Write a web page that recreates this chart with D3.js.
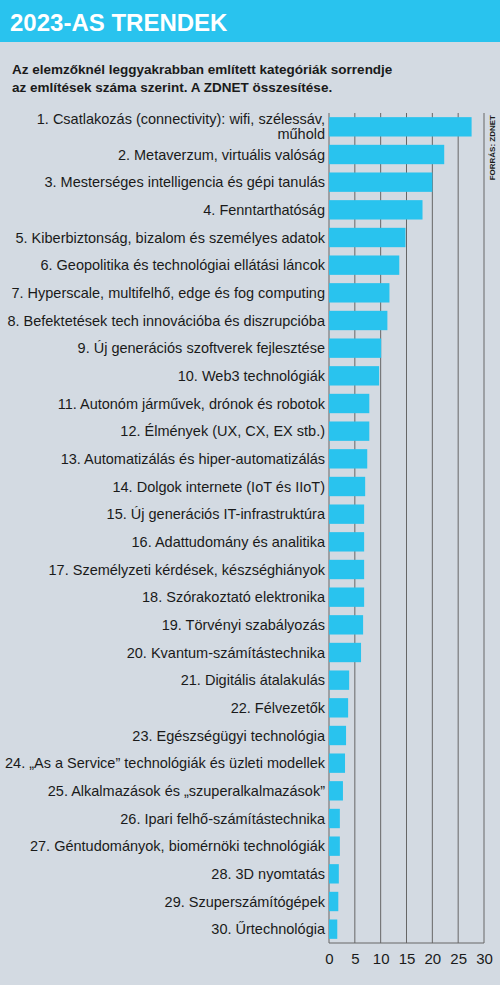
<!DOCTYPE html>
<html><head><meta charset="utf-8">
<script src="https://cdn.jsdelivr.net/npm/d3@7"></script>
<style>body{margin:0;background:#d3dae2}</style>
</head><body>
<script>
const categories = [
  "1. Csatlakozás (connectivity): wifi, szélessáv,|műhold",
  "2. Metaverzum, virtuális valóság",
  "3. Mesterséges intelligencia és gépi tanulás",
  "4. Fenntarthatóság",
  "5. Kiberbiztonság, bizalom és személyes adatok",
  "6. Geopolitika és technológiai ellátási láncok",
  "7. Hyperscale, multifelhő, edge és fog computing",
  "8. Befektetések tech innovációba és diszrupcióba",
  "9. Új generációs szoftverek fejlesztése",
  "10. Web3 technológiák",
  "11. Autonóm járművek, drónok és robotok",
  "12. Élmények (UX, CX, EX stb.)",
  "13. Automatizálás és hiper-automatizálás",
  "14. Dolgok internete (IoT és IIoT)",
  "15. Új generációs IT-infrastruktúra",
  "16. Adattudomány és analitika",
  "17. Személyzeti kérdések, készséghiányok",
  "18. Szórakoztató elektronika",
  "19. Törvényi szabályozás",
  "20. Kvantum-számítástechnika",
  "21. Digitális átalakulás",
  "22. Félvezetők",
  "23. Egészségügyi technológia",
  "24. „As a Service” technológiák és üzleti modellek",
  "25. Alkalmazások és „szuperalkalmazások”",
  "26. Ipari felhő-számítástechnika",
  "27. Géntudományok, biomérnöki technológiák",
  "28. 3D nyomtatás",
  "29. Szuperszámítógépek",
  "30. Űrtechnológia"
];
const values = [27.6, 22.3, 20, 18.1, 14.8, 13.6, 11.7, 11.3, 10.1, 9.7, 7.8, 7.8, 7.4, 7, 6.8, 6.8, 6.8, 6.8, 6.6, 6.2, 3.9, 3.7, 3.3, 3.1, 2.7, 2.1, 2.1, 1.9, 1.8, 1.6];
const ticks = [0, 5, 10, 15, 20, 25, 30];

const W = 500, H = 985;
const cyan = "#29c3ee";
const narrow = "'Liberation Sans Narrow', 'Arial Narrow', 'Liberation Sans', sans-serif";
const svg = d3.select("body").append("svg").attr("width", W).attr("height", H);
svg.append("rect").attr("width", W).attr("height", H).attr("fill", "#d3dae2");
svg.append("rect").attr("width", W).attr("height", 42).attr("fill", cyan);
svg.append("text").attr("x", 10).attr("y", 31).attr("fill", "#fff")
  .attr("font-family", "'Liberation Sans', Arial, sans-serif").attr("font-weight", "bold")
  .attr("font-size", 24).text("2023-AS TRENDEK");
const sub = svg.append("text").attr("font-family", "'Liberation Sans', Arial, sans-serif")
  .attr("font-weight", "bold").attr("font-size", 13.5).attr("fill", "#1a1a1a");
sub.append("tspan").attr("x", 12).attr("y", 74).text("Az elemzőknél leggyakrabban említett kategóriák sorrendje");
sub.append("tspan").attr("x", 12).attr("y", 92).text("az említések száma szerint. A ZDNET összesítése.");

const yTop = 113, yBottom = 943;
const x = d3.scaleLinear().domain([0, 30]).range([329, 484]);
const y = d3.scaleBand().domain(categories).range([yTop, yBottom]).paddingInner(0.3).paddingOuter(0.15);

svg.append("g").selectAll("line").data(ticks).join("line")
  .attr("x1", d => x(d)).attr("x2", d => x(d)).attr("y1", yTop).attr("y2", yBottom)
  .attr("stroke", "#666").attr("stroke-width", 1);
svg.append("line").attr("x1", x(0)).attr("x2", x(30)).attr("y1", yBottom).attr("y2", yBottom)
  .attr("stroke", "#666");

svg.append("g").selectAll("rect").data(values).join("rect")
  .attr("x", x(0)).attr("y", (d, i) => y(categories[i]))
  .attr("width", d => x(d) - x(0)).attr("height", y.bandwidth()).attr("fill", cyan);

const labels = svg.append("g").attr("font-family", narrow).attr("font-size", 14.5)
  .attr("fill", "#1a1a1a").attr("text-anchor", "end");
categories.forEach(c => {
  const parts = c.split("|");
  const cy = y(c) + y.bandwidth() / 2;
  const t = labels.append("text");
  if (parts.length === 1) {
    t.attr("x", 325).attr("y", cy + 5).text(c);
  } else {
    t.append("tspan").attr("x", 325).attr("y", cy - 3).text(parts[0]);
    t.append("tspan").attr("x", 325).attr("y", cy + 12).text(parts[1]);
  }
});

svg.append("g").attr("transform", `translate(0,${yBottom})`)
  .call(d3.axisBottom(x).tickValues(ticks).tickSize(0).tickPadding(10))
  .call(g => g.select(".domain").remove())
  .call(g => g.selectAll("text").attr("font-family", narrow).attr("font-size", 15).attr("fill", "#1a1a1a"));

svg.append("text").attr("transform", "translate(495,115) rotate(-90)").attr("text-anchor", "end")
  .attr("font-family", narrow).attr("font-weight", "bold").attr("font-size", 8).attr("fill", "#1a1a1a")
  .text("FORRÁS: ZDNET");
</script>
</body></html>
